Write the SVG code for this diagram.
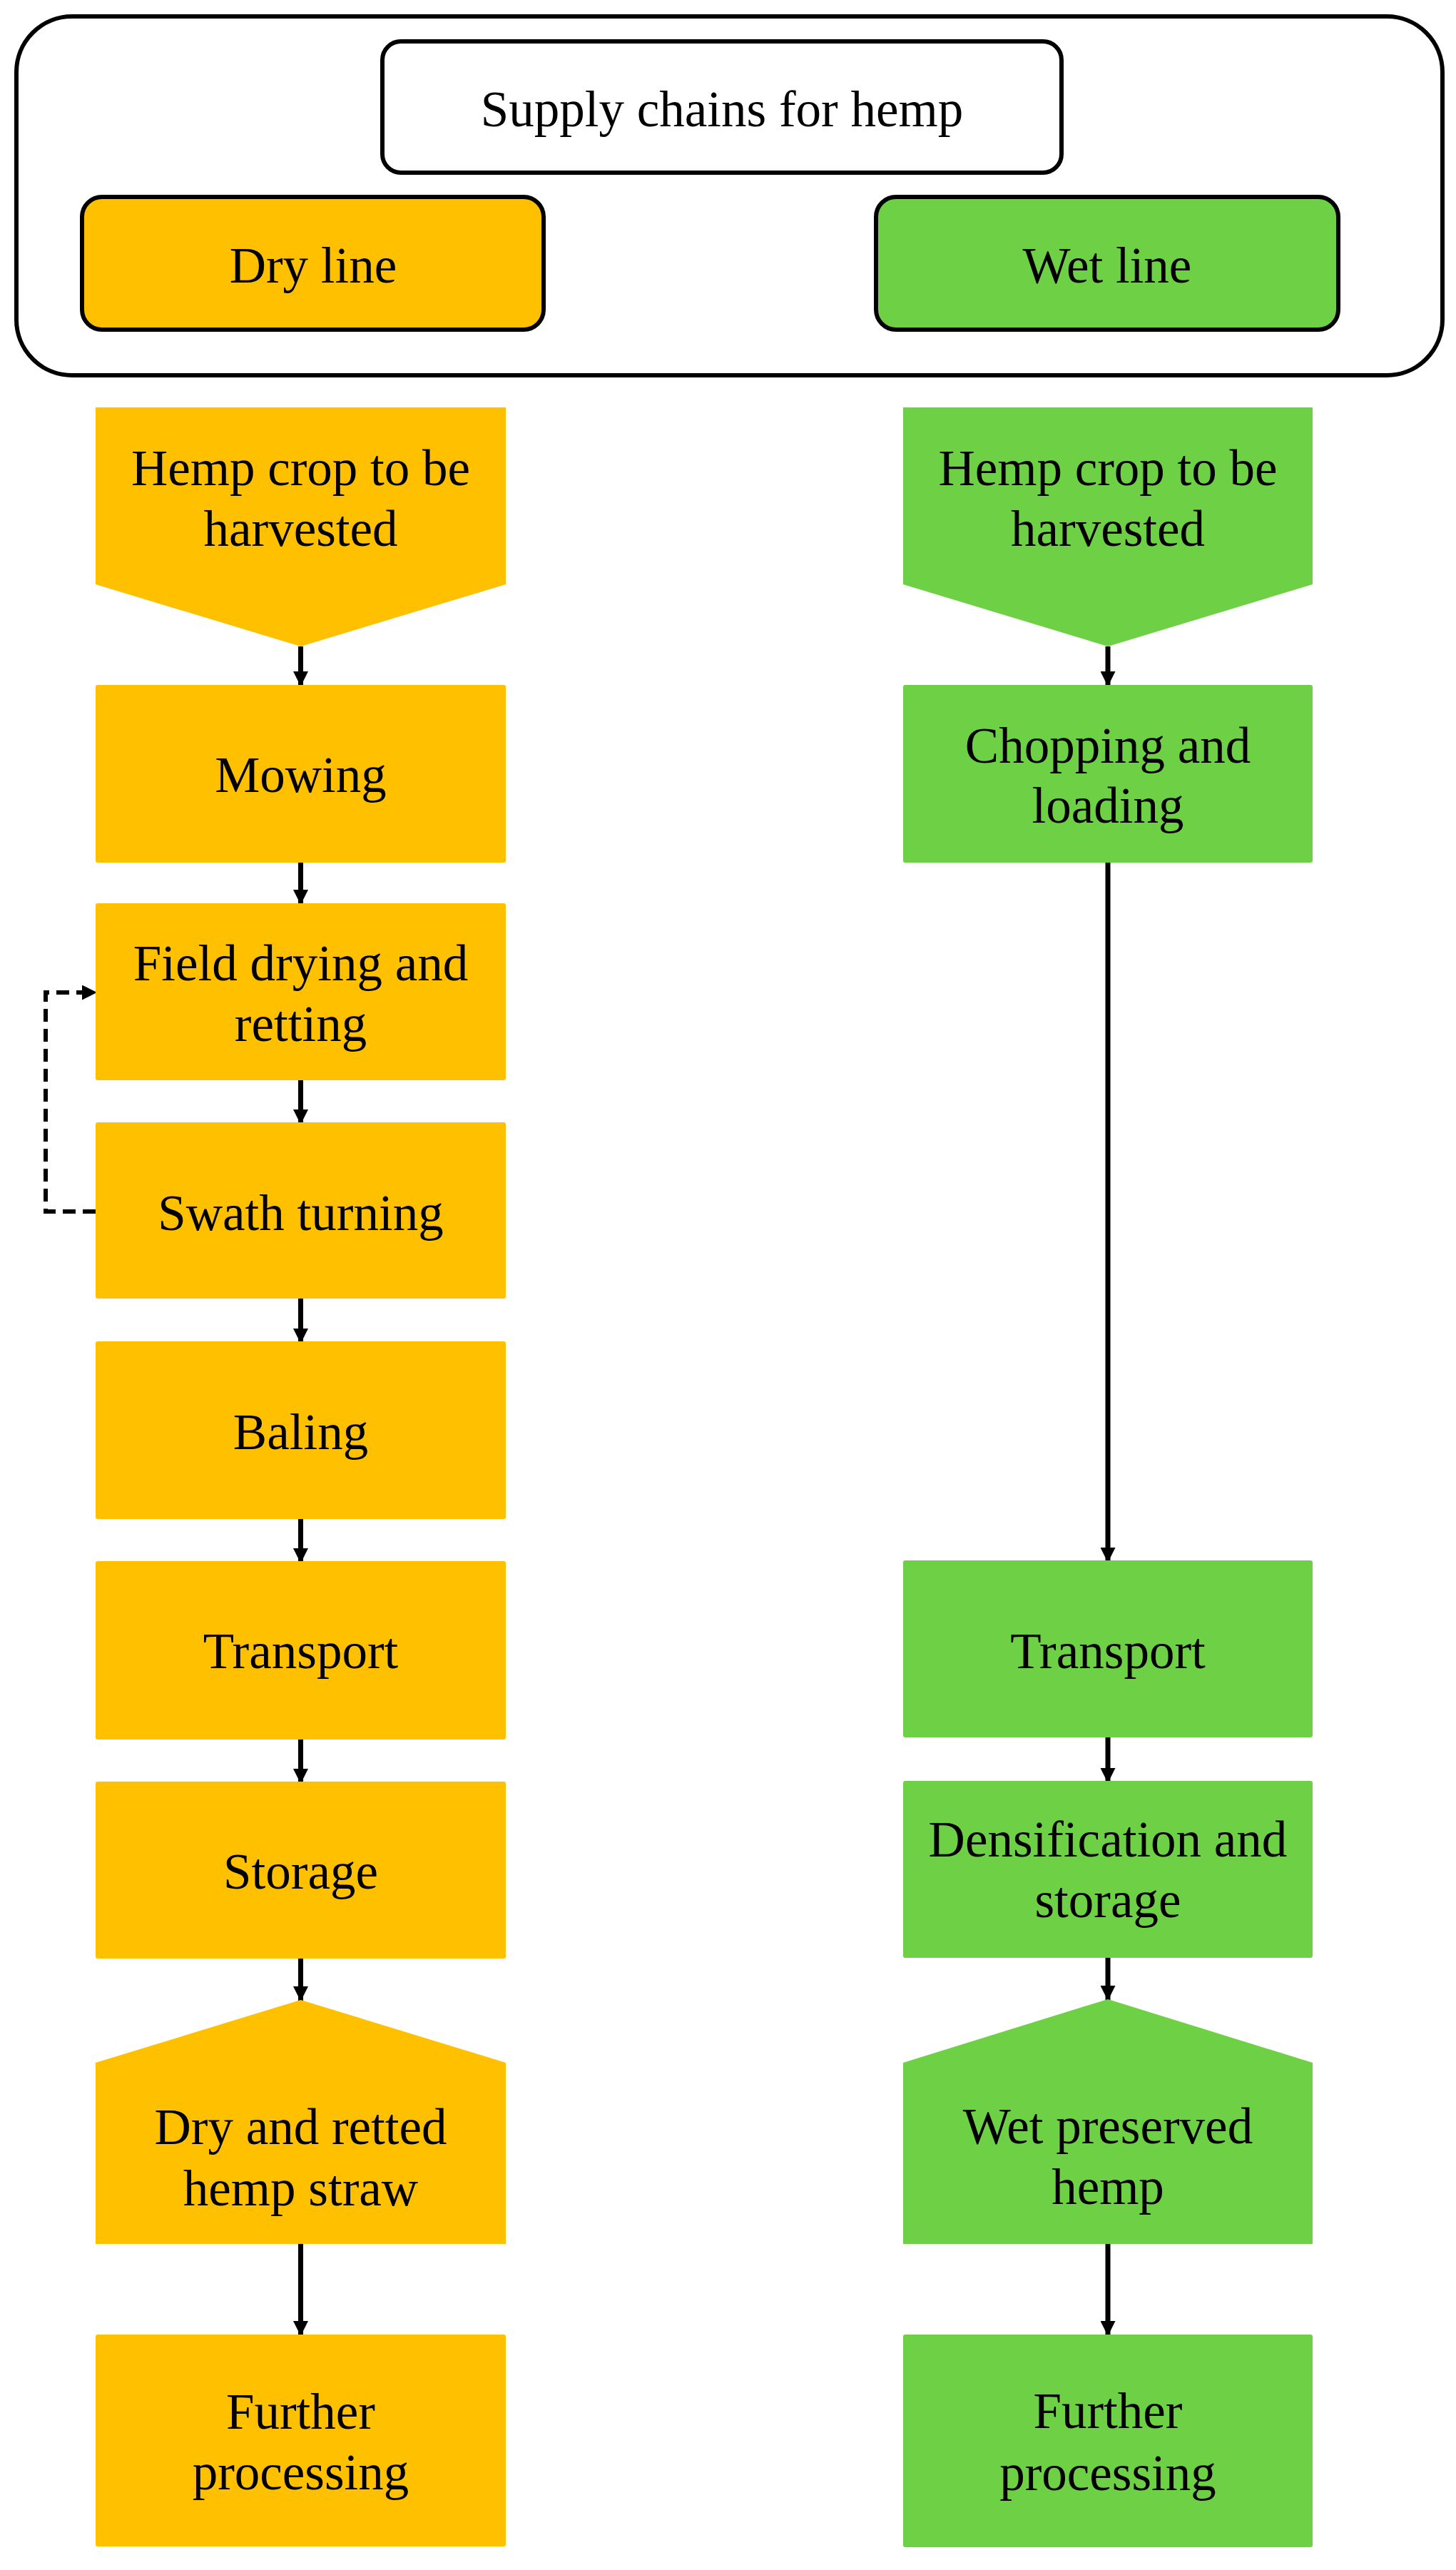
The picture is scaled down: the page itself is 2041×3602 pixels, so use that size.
<svg xmlns="http://www.w3.org/2000/svg" width="2041" height="3602" viewBox="0 0 2041 3602">
<style>
.t{font-family:"Liberation Serif","Times New Roman",serif;font-size:71px;fill:#000;text-anchor:middle}
.dry{fill:#FFC000}
.wet{fill:#6ED045}
.hdr{stroke:#000;stroke-width:6}
.c{stroke:#000;stroke-width:7;fill:none}
.d{stroke:#000;stroke-width:6;fill:none;stroke-dasharray:18 10}
</style>
<defs>
<marker id="ah" viewBox="0 0 21 21" refX="21" refY="10.5" markerWidth="21" markerHeight="21" markerUnits="userSpaceOnUse" orient="auto">
<path d="M0,0 L21,10.5 L0,21 Z" fill="#000"/>
</marker>
</defs>
<rect width="2041" height="3602" fill="#fff"/>
<g id="header">
<rect x="23" y="23" width="1999" height="503" rx="78" ry="78" fill="#fff" class="hdr"/>
</g>
<g id="title">
<rect x="536" y="58" width="952" height="184" rx="26" ry="26" fill="#fff" class="hdr"/>
<text class="t" x="1012" y="177">Supply chains for hemp</text>
</g>
<g id="dryline">
<rect x="115" y="276" width="647" height="186" rx="28" ry="28" class="dry hdr"/>
<text class="t" x="439" y="396">Dry line</text>
</g>
<g id="wetline">
<rect x="1228" y="276" width="648" height="186" rx="28" ry="28" class="wet hdr"/>
<text class="t" x="1552" y="396">Wet line</text>
</g>

<g id="connectors">
<line class="c" x1="421.5" y1="906" x2="421.5" y2="962" marker-end="url(#ah)"/>
<line class="c" x1="421.5" y1="1205" x2="421.5" y2="1268" marker-end="url(#ah)"/>
<line class="c" x1="421.5" y1="1510" x2="421.5" y2="1576" marker-end="url(#ah)"/>
<line class="c" x1="421.5" y1="1817" x2="421.5" y2="1883" marker-end="url(#ah)"/>
<line class="c" x1="421.5" y1="2126" x2="421.5" y2="2191" marker-end="url(#ah)"/>
<line class="c" x1="421.5" y1="2435" x2="421.5" y2="2500" marker-end="url(#ah)"/>
<line class="c" x1="421.5" y1="2742" x2="421.5" y2="2805" marker-end="url(#ah)"/>
<line class="c" x1="421.5" y1="3145" x2="421.5" y2="3274" marker-end="url(#ah)"/>
<line class="c" x1="1553" y1="906" x2="1553" y2="962" marker-end="url(#ah)"/>
<line class="c" x1="1553" y1="1205" x2="1553" y2="2190" marker-end="url(#ah)"/>
<line class="c" x1="1553" y1="2432" x2="1553" y2="2499" marker-end="url(#ah)"/>
<line class="c" x1="1553" y1="2741" x2="1553" y2="2804" marker-end="url(#ah)"/>
<line class="c" x1="1553" y1="3145" x2="1553" y2="3274" marker-end="url(#ah)"/>
<path class="d" d="M134,1698 H64 V1391 H136" marker-end="url(#ah)"/>
</g>

<g id="dry-hemp">
<polygon class="dry" points="134,571 709,571 709,819 421.5,906 134,819"/>
<text class="t" x="421.5" y="680">Hemp crop to be</text>
<text class="t" x="421.5" y="765">harvested</text>
</g>
<g id="dry-mowing">
<rect class="dry" x="134" y="960" width="575" height="249" rx="3"/>
<text class="t" x="421.5" y="1110">Mowing</text>
</g>
<g id="dry-field">
<rect class="dry" x="134" y="1266" width="575" height="248" rx="3"/>
<text class="t" x="421.5" y="1374">Field drying and</text>
<text class="t" x="421.5" y="1459">retting</text>
</g>
<g id="dry-swath">
<rect class="dry" x="134" y="1573" width="575" height="247" rx="3"/>
<text class="t" x="421.5" y="1724">Swath turning</text>
</g>
<g id="dry-baling">
<rect class="dry" x="134" y="1880" width="575" height="249" rx="3"/>
<text class="t" x="421.5" y="2031">Baling</text>
</g>
<g id="dry-transport">
<rect class="dry" x="134" y="2188" width="575" height="250" rx="3"/>
<text class="t" x="421.5" y="2338">Transport</text>
</g>
<g id="dry-storage">
<rect class="dry" x="134" y="2497" width="575" height="248" rx="3"/>
<text class="t" x="421.5" y="2647">Storage</text>
</g>
<g id="dry-straw">
<polygon class="dry" points="134,2891 421.5,2803 709,2891 709,3145 134,3145"/>
<text class="t" x="421.5" y="3005">Dry and retted</text>
<text class="t" x="421.5" y="3091">hemp straw</text>
</g>
<g id="dry-further">
<rect class="dry" x="134" y="3272" width="575" height="297" rx="3"/>
<text class="t" x="421.5" y="3404">Further</text>
<text class="t" x="421.5" y="3489">processing</text>
</g>

<g id="wet-hemp">
<polygon class="wet" points="1266,571 1840,571 1840,819 1553,906 1266,819"/>
<text class="t" x="1553" y="680">Hemp crop to be</text>
<text class="t" x="1553" y="765">harvested</text>
</g>
<g id="wet-chopping">
<rect class="wet" x="1266" y="960" width="574" height="249" rx="3"/>
<text class="t" x="1553" y="1069">Chopping and</text>
<text class="t" x="1553" y="1153">loading</text>
</g>
<g id="wet-transport">
<rect class="wet" x="1266" y="2187" width="574" height="248" rx="3"/>
<text class="t" x="1553" y="2338">Transport</text>
</g>
<g id="wet-densification">
<rect class="wet" x="1266" y="2496" width="574" height="248" rx="3"/>
<text class="t" x="1553" y="2602">Densification and</text>
<text class="t" x="1553" y="2687">storage</text>
</g>
<g id="wet-preserved">
<polygon class="wet" points="1266,2891 1553,2802 1840,2891 1840,3145 1266,3145"/>
<text class="t" x="1553" y="3004">Wet preserved</text>
<text class="t" x="1553" y="3089">hemp</text>
</g>
<g id="wet-further">
<rect class="wet" x="1266" y="3272" width="574" height="298" rx="3"/>
<text class="t" x="1553" y="3403">Further</text>
<text class="t" x="1553" y="3490">processing</text>
</g>
</svg>
